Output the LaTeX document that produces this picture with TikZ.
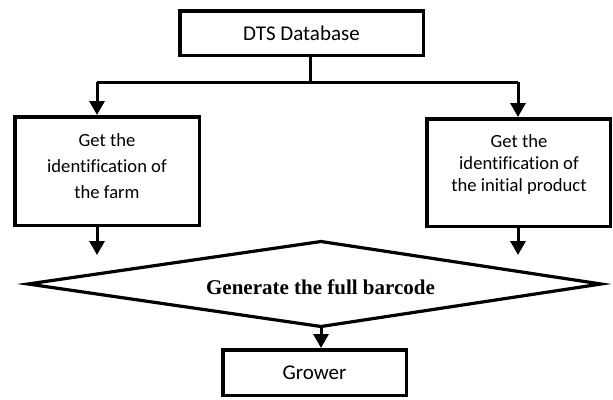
\documentclass[tikz,border=0pt]{standalone}
\usepackage{fontspec}
\setmainfont{Liberation Serif}
\newfontfamily\calfont[Ligatures=NoCommon]{Carlito}
\usetikzlibrary{arrows.meta}
\tikzset{
  box/.style={draw=black, line width=3.5pt, fill=white, inner sep=0pt},
  conn/.style={draw=black, line width=3pt},
  arr/.style={conn, -{Triangle[width=15pt,length=14pt]}},
  bigtxt/.style={font=\calfont\fontsize{21}{25}\selectfont},
  smalltxt/.style={align=center, inner sep=0pt},
}
\begin{document}
\begin{tikzpicture}[x=1pt, y=-1pt]
\useasboundingbox (0,0) rectangle (613,399);
% boxes
\node[box, minimum width=243.5pt, minimum height=44.5pt, bigtxt] (dts) at (301.5,33) {DTS Database};
\node[box, minimum width=184.5pt, minimum height=108.5pt] (farm) at (107,171) {};
\node[smalltxt, font=\calfont\fontsize{18.6}{26}\selectfont] (farmtxt) at (107,166) {Get the\\identification of\\the farm};
\node[box, minimum width=183.5pt, minimum height=107.5pt] (prod) at (518.5,172.5) {};
\node[smalltxt, font=\calfont\fontsize{18.6}{22}\selectfont] (prodtxt) at (519,165) {Get the\\identification of\\the initial product};
\node[box, minimum width=183.5pt, minimum height=45.5pt, bigtxt] (grower) at (314.5,372.5) {Grower};
% diamond
\coordinate (dl) at (28,284);
\coordinate (dt) at (321,241.5);
\coordinate (dr) at (601,284);
\coordinate (dbot) at (321,326.5);
\draw[line width=3.2pt, line join=miter] (dl) -- (dt) -- (dr) -- (dbot) -- cycle;
\node[font=\bfseries\fontsize{21}{25}\selectfont, inner sep=0pt] (gen) at (320.5,287) {Generate the full barcode};
% connectors
\coordinate (split) at (310,82);
\coordinate (lb) at (97,82);
\coordinate (rb) at (518,82);
\coordinate (fend) at (97,255);
\coordinate (pend) at (518,255);
\draw[conn] (dts.south -| split) -- (split);
\draw[conn] (lb) -- (rb);
\draw[arr] (lb) -- (lb |- farm.north);
\draw[arr] (rb) -- (rb |- prod.north);
\draw[arr] (farm.south -| fend) -- (fend);
\draw[arr] (prod.south -| pend) -- (pend);
\draw[arr] (dbot) -- (dbot |- grower.north);
\end{tikzpicture}
\end{document}
